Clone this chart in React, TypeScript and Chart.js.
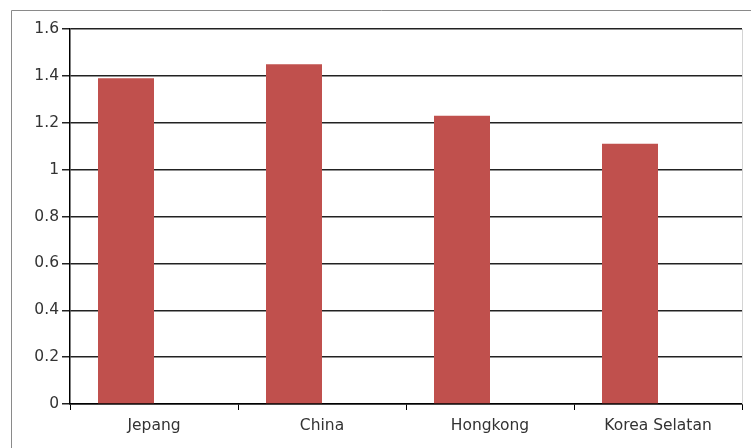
import React, { useEffect, useRef } from "react";
import { Chart, registerables } from "chart.js";

Chart.register(...registerables);

const categories = ["Jepang", "China", "Hongkong", "Korea Selatan"];
const values = [1.39, 1.45, 1.23, 1.11];
const emptySeries: (number | null)[] = [null, null, null, null];
const yMin = 0;
const yMax = 1.6;
const yStep = 0.2;

const framePlugin = {
  id: "framePlugin",
  afterDraw(chart: any) {
    const { ctx, chartArea } = chart;
    ctx.save();
    ctx.strokeStyle = "#d4d4d4";
    ctx.lineWidth = 1;
    ctx.beginPath();
    ctx.moveTo(chartArea.right + 0.5, chartArea.top);
    ctx.lineTo(chartArea.right + 0.5, chartArea.bottom);
    ctx.stroke();
    ctx.strokeStyle = "#8a8a8a";
    ctx.beginPath();
    ctx.moveTo(11.5, chart.height);
    ctx.lineTo(11.5, 10.5);
    ctx.lineTo(chart.width, 10.5);
    ctx.stroke();
    ctx.restore();
  },
};

export default function App() {
  const ref = useRef<HTMLCanvasElement | null>(null);
  useEffect(() => {
    if (!ref.current) return;
    const chart = new Chart(ref.current, {
      type: "bar",
      data: {
        labels: categories,
        datasets: [
          {
            data: values,
            backgroundColor: "#C0504D",
            categoryPercentage: 2 / 3,
            barPercentage: 1,
          },
          {
            data: emptySeries as any,
            backgroundColor: "#4F81BD",
            categoryPercentage: 2 / 3,
            barPercentage: 1,
          },
        ],
      },
      options: {
        animation: false,
        responsive: false,
        maintainAspectRatio: false,
        layout: { padding: { top: 29, right: 9, left: 0, bottom: 0 } },
        plugins: { legend: { display: false }, tooltip: { enabled: false } },
        scales: {
          x: {
            offset: true,
            grid: {
              offset: true,
              drawOnChartArea: false,
              drawTicks: true,
              tickLength: 6,
              color: "#000",
            },
            border: { color: "#000", width: 1.5 },
            ticks: {
              color: "#333",
              font: { family: "'DejaVu Sans'", size: 15.5 },
              padding: 7,
              maxRotation: 0,
            },
            afterFit(scale: any) {
              scale.height = 44;
            },
          },
          y: {
            min: yMin,
            max: yMax,
            ticks: {
              stepSize: yStep,
              color: "#333",
              font: { family: "'DejaVu Sans'", size: 15.5 },
              padding: 3,
              callback: (v: any) => String(Number(Number(v).toFixed(1))),
            },
            grid: { color: "#222", lineWidth: 1.5, tickLength: 8, drawTicks: true },
            border: { color: "#000", width: 1.5 },
            afterFit(scale: any) {
              scale.width = 70;
            },
          },
        },
      },
      plugins: [framePlugin],
    });
    return () => chart.destroy();
  }, []);
  return (
    <div style={{ position: "fixed", left: 0, top: 0, width: 751, height: 448, background: "#fff" }}>
      <canvas ref={ref} width={751} height={448} style={{ display: "block" }} />
    </div>
  );
}
